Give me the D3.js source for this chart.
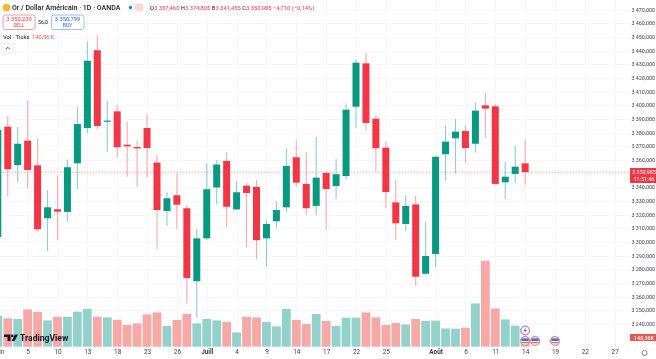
<!DOCTYPE html>
<html>
<head>
<meta charset="utf-8">
<script src="https://cdn.jsdelivr.net/npm/d3@7"></script>
<style>
  html, body { margin: 0; padding: 0; background: #fff; }
  svg { display: block; font-family: "Roboto", "Liberation Sans", sans-serif; filter: blur(0.3px); }
</style>
</head>
<body>
<div id="chart"></div>
<script>
// Daily candles
const opens = [3303.6,3384.3,3356.2,3374,3356,3317.3,3323.8,3321.9,3357.5,3383.3,3440.2,3388.2,3395.5,3371.1,3369.4,3383.3,3358,3322.6,3334.1,3324.6,3271.2,3302.6,3339.8,3359.2,3323.8,3341.1,3340.2,3302.6,3315.1,3325.3,3361.9,3342.4,3326.3,3350.4,3340.9,3348.2,3398.9,3430.6,3390.1,3368.9,3328.9,3313.1,3327.4,3276.7,3291.1,3364.1,3375.8,3381.1,3371.8,3399.9,3399.2,3343.6,3349.7,3357.46]
const highs = [3383.3,3392.1,3384.3,3403.3,3375.5,3338,3348.9,3360.4,3398.9,3446.5,3451.3,3403.3,3399.9,3387.9,3374,3393.3,3363.6,3336.3,3350.2,3327,3309.2,3357.5,3359.9,3365.5,3344.8,3343.1,3345.3,3316.5,3329.9,3368.5,3374.5,3365.5,3377,3351.3,3360.6,3401.4,3433.6,3438.4,3392.8,3373.3,3345.3,3334.3,3333.6,3314.8,3362.8,3385,3389.9,3385,3401.8,3409.1,3400.6,3358.7,3370.4,3374.805]
const lows = [3301.4,3333.1,3343.8,3339.4,3307.5,3293.3,3301.4,3314.8,3338.5,3379.7,3382.4,3366,3361.9,3347.7,3340.4,3347,3294.8,3311.6,3309.2,3255.1,3244.1,3301.4,3327.5,3311.1,3323.3,3296,3287.3,3282.4,3309.9,3321.7,3340.4,3319.9,3319.5,3309.2,3331.4,3345.3,3383.5,3381.3,3351.3,3325,3301.4,3308,3267.7,3276.7,3281.4,3344.8,3350.2,3358.2,3365.2,3376.2,3342.4,3331.2,3342.9,3341.455]
const closes = [3381.9,3353.1,3371.8,3352.6,3309.2,3325.3,3322.1,3354.6,3386.2,3432.5,3384.8,3388.7,3369.2,3369.9,3368.4,3368.7,3323.3,3331.9,3327.2,3273.6,3302.6,3338.5,3356.6,3325.7,3336.3,3335.8,3301.2,3313.1,3323.3,3355.5,3343.3,3324.6,3347,3338.7,3349.5,3396.7,3431.1,3387,3368.5,3336.5,3313.6,3326.3,3274.5,3289.7,3362.3,3373.3,3380.6,3368.7,3396,3397.5,3342.4,3347.7,3355,3350.985]
// Volume in thousands of ticks
const volumes = [479,442,432,582,541,410,468,468,546,588,468,457,421,339,364,504,535,323,417,510,364,432,410,385,223,468,457,385,317,588,417,354,510,401,323,452,452,535,457,339,370,348,432,401,406,285,281,296,675,1342,597,426,328,140.56]

// Time axis labels: bar slot -> text
const tickSlots = [0,3,6,9,12,15,18,21,24,27,30,33,36,39,44,47,50,53,56,59,62]
const tickLabels = ['Juin','5','10','13','18','23','26','Juill','4','9','14','17','22','25','Août','6','11','14','19','22','27']
// 3 350 sits behind the last price tag
const priceTicks = d3.range(3240, 3471, 10)
const hiddenTick = 3350

// Slots carrying an event icon
const flagSlots = [53,54,56]
const lastPrice = 3350.985

const width = 656
const height = 359
const green = '#089981', red = '#f23645'
const greenWick = '#8fcfc5', redWick = '#f8a9ae'
const greenVol = '#92d2cb', redVol = '#f7a9a7'

const svg = d3.select('#chart').append('svg')
    .attr('width', width)
    .attr('height', height)

const x = d3.scaleLinear().domain([0, 53]).range([-2.2, 525.15])
const y = d3.scaleLinear().domain([3240, 3470]).range([323.9, 9.5])
const yVol = d3.scaleLinear().domain([0, 1342]).range([346.7, 260.7])

const candles = opens.map((o, i) => ({
    i, o, h: highs[i], l: lows[i], c: closes[i], v: volumes[i], up: closes[i] >= o
}))

// Grid
const grid = svg.append('g')
grid.selectAll('line.h').data(priceTicks).join('line')
    .attr('x1', 0).attr('x2', 630)
    .attr('y1', d => Math.round(y(d)) + 0.5).attr('y2', d => Math.round(y(d)) + 0.5)
    .attr('stroke', '#f5f6f8')
grid.selectAll('line.v').data(tickSlots).join('line')
    .attr('x1', d => Math.round(x(d)) + 0.5).attr('x2', d => Math.round(x(d)) + 0.5)
    .attr('y1', 0).attr('y2', 346.7)
    .attr('stroke', '#f5f6f8')

// Volume bars
svg.append('g').selectAll('rect').data(candles).join('rect')
    .attr('x', d => x(d.i) - 4.4)
    .attr('width', 8.8)
    .attr('y', d => yVol(d.v))
    .attr('height', d => yVol(0) - yVol(d.v))
    .attr('fill', d => d.up ? greenVol : redVol)

// Last price line
svg.append('line')
    .attr('x1', 0).attr('x2', 630)
    .attr('y1', y(lastPrice)).attr('y2', y(lastPrice))
    .attr('stroke', '#f7a9ae')
    .attr('stroke-dasharray', '1.5 1.5')

// Candles
const candle = svg.append('g').selectAll('g').data(candles).join('g')
candle.append('line')
    .attr('x1', d => x(d.i)).attr('x2', d => x(d.i))
    .attr('y1', d => y(d.h)).attr('y2', d => y(d.l))
    .attr('stroke', d => d.up ? greenWick : redWick)
    .attr('stroke-width', 1.1)
candle.append('rect')
    .attr('x', d => x(d.i) - 3.5)
    .attr('width', 7)
    .attr('y', d => Math.min(y(d.o), y(d.c)))
    .attr('height', d => Math.max(1.2, Math.abs(y(d.o) - y(d.c))))
    .attr('fill', d => d.up ? green : red)

// Price axis
const priceAxis = svg.append('g')
    .attr('transform', 'translate(655,0)')
    .call(d3.axisLeft(y).tickValues(priceTicks.filter(d => d !== hiddenTick)).tickSize(0).tickPadding(0)
        .tickFormat(d => d3.format('.0f')(d).replace(/^(\d)/, '$1 ') + ',000'))
priceAxis.select('.domain').remove()
priceAxis.selectAll('text').attr('font-size', 5.4).attr('fill', '#3a3e4a').attr('font-family', 'Roboto')

// Time axis
const timeAxis = svg.append('g')
    .attr('transform', 'translate(0,346)')
    .call(d3.axisBottom(x).tickValues(tickSlots).tickSize(0).tickPadding(3)
        .tickFormat((d, i) => tickLabels[i]))
timeAxis.select('.domain').remove()
timeAxis.selectAll('text').attr('font-size', 6.4).attr('fill', '#3a3e4a').attr('font-family', 'Roboto')
timeAxis.selectAll('.tick').filter((d, i) => tickLabels[i] === 'Juill' || tickLabels[i] === 'Août')
    .select('text').attr('font-weight', 700)

// Price tags
const tag = svg.append('g')
tag.append('rect').attr('x', 630).attr('y', 168).attr('width', 26).attr('height', 15).attr('fill', red)
tag.append('text').attr('x', 644).attr('y', 174).attr('text-anchor', 'middle')
    .attr('font-size', 5.4).attr('fill', '#fff').text('3 350,985')
tag.append('text').attr('x', 644).attr('y', 181).attr('text-anchor', 'middle')
    .attr('font-size', 5.4).attr('fill', '#fff').text('11:51:48')
tag.append('rect').attr('x', 630).attr('y', 334).attr('width', 26).attr('height', 7).attr('fill', '#ef5350')
tag.append('text').attr('x', 644).attr('y', 339.6).attr('text-anchor', 'middle')
    .attr('font-size', 5.4).attr('font-weight', 500).attr('fill', '#fff').text('140,56K')

// Settings ring next to the axis
svg.append('circle').attr('cx', 644.5).attr('cy', 353).attr('r', 2.6)
    .attr('fill', 'none').attr('stroke', '#555').attr('stroke-width', 0.7)

// Event icons
const events = svg.append('g')
const flag = events.selectAll('g').data(flagSlots).join('g')
    .attr('transform', d => `translate(${x(d)},341)`)
flag.append('circle').attr('r', 4.4).attr('fill', '#fff').attr('stroke', '#f08089').attr('stroke-width', 1.2)
flag.append('path').attr('d', 'M-3.6,-2.6H3.6V0H-3.6Z').attr('fill', '#2f78c4')
flag.append('path').attr('d', 'M-3.6,1H3.6V2.2H-3.6Z').attr('fill', '#e5616b')
const bolt = events.append('g').attr('transform', `translate(${x(53)},330.5)`)
bolt.append('circle').attr('r', 4.4).attr('fill', '#fff').attr('stroke', '#9c3fc0').attr('stroke-width', 0.9)
bolt.append('path').attr('d', 'M0.8,-3L-1.6,0.4H-0.1L-0.8,3L1.6,-0.5H0.1Z').attr('fill', '#9c3fc0')

// Header
const header = svg.append('g')
header.append('circle').attr('cx', 6.5).attr('cy', 7.5).attr('r', 3.8).attr('fill', '#f5b62c')
header.append('text').attr('x', 12).attr('y', 10.2).attr('font-size', 7).attr('font-weight', 500)
    .attr('fill', '#131722').text('Or / Dollar Américain · 1D · OANDA')
header.append('circle').attr('cx', 130.5).attr('cy', 7.5).attr('r', 1.7).attr('fill', green)
header.append('rect').attr('x', 134.5).attr('y', 3.5).attr('width', 9).attr('height', 8).attr('rx', 4).attr('fill', '#fbd5d8')

const ohlc = [['O', '3 357,460'], ['H', '3 374,805'], ['B', '3 341,455'], ['C', '3 350,985']]
const ohlcText = header.append('text').attr('x', 150).attr('y', 9.8).attr('font-size', 5.8)
ohlc.forEach(([k, v]) => {
    ohlcText.append('tspan').attr('fill', '#131722').text(k)
    ohlcText.append('tspan').attr('fill', red).text(v + ' ')
})
ohlcText.append('tspan').attr('fill', red).text('−4,710 (−0,14%)')

const sell = header.append('g')
sell.append('rect').attr('x', 3).attr('y', 15).attr('width', 32).attr('height', 14.5).attr('rx', 2.5)
    .attr('fill', '#fff').attr('stroke', '#f0808a').attr('stroke-width', 0.8)
sell.append('text').attr('x', 19).attr('y', 21).attr('text-anchor', 'middle').attr('font-size', 5.8).attr('fill', red).text('3 350,239')
sell.append('text').attr('x', 19).attr('y', 27.3).attr('text-anchor', 'middle').attr('font-size', 5).attr('fill', red).text('SELL')
header.append('text').attr('x', 43).attr('y', 24).attr('text-anchor', 'middle').attr('font-size', 5.2).attr('fill', '#131722').text('56,0')
const buy = header.append('g')
buy.append('rect').attr('x', 51.5).attr('y', 15).attr('width', 32.5).attr('height', 14.5).attr('rx', 2.5)
    .attr('fill', '#fff').attr('stroke', '#8fa9f5').attr('stroke-width', 0.8)
buy.append('text').attr('x', 67.5).attr('y', 21).attr('text-anchor', 'middle').attr('font-size', 5.8).attr('fill', '#2962ff').text('3 350,799')
buy.append('text').attr('x', 67.5).attr('y', 27.3).attr('text-anchor', 'middle').attr('font-size', 5).attr('fill', '#2962ff').text('BUY')

header.append('text').attr('x', 3).attr('y', 38.5).attr('font-size', 5.8).attr('fill', '#131722').text('Vol · Ticks')
header.append('text').attr('x', 32).attr('y', 38.5).attr('font-size', 5.8).attr('fill', '#ef5350').text('140,56 K')
header.append('rect').attr('x', 1.5).attr('y', 43.5).attr('width', 12.5).attr('height', 9.5).attr('rx', 1.5)
    .attr('fill', '#fff').attr('stroke', '#e6e8ee').attr('stroke-width', 0.7)
header.append('path').attr('d', 'M5.8,49.2L7.8,47.2L9.8,49.2').attr('fill', 'none').attr('stroke', '#333').attr('stroke-width', 0.8)

// Watermark
const mark = svg.append('g')
mark.append('path').attr('d', 'M4,334.5H10.5V341H7.5V337H4Z M15,334.5H18L14.5,341H11.5Z').attr('fill', '#131722')
mark.append('circle').attr('cx', 12.3).attr('cy', 335.9).attr('r', 1.3).attr('fill', '#131722')
mark.append('text').attr('x', 20).attr('y', 340.9).attr('font-size', 8.6).attr('font-weight', 700)
    .attr('font-family', 'Roboto, sans-serif').attr('fill', '#131722').text('TradingView')
</script>
</body>
</html>
